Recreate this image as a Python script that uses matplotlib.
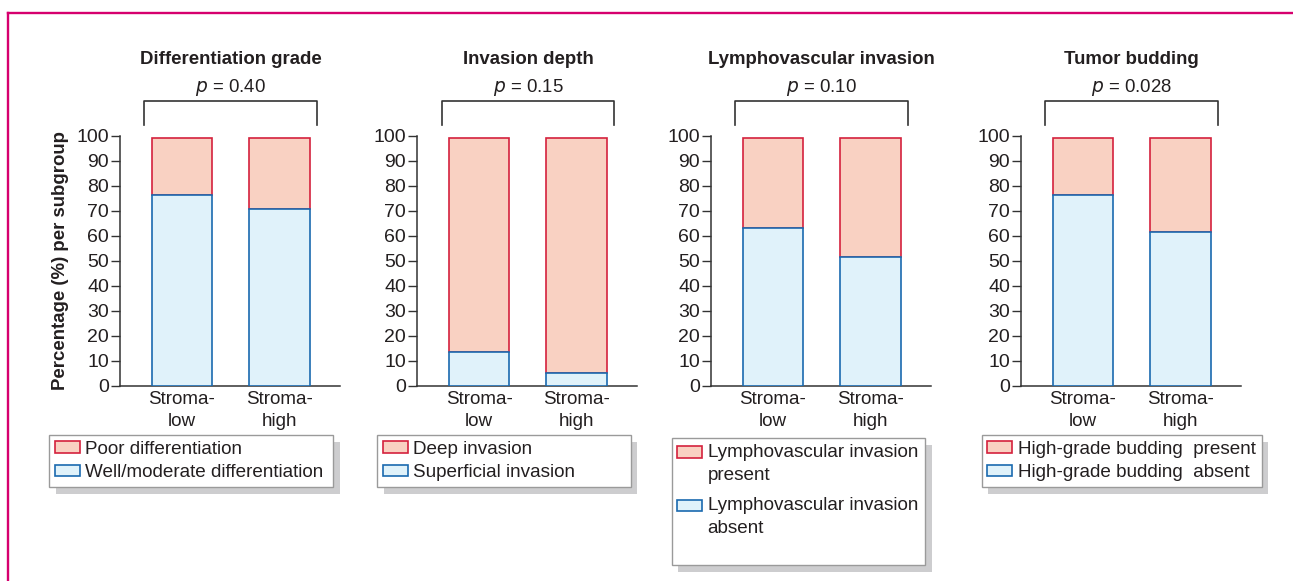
import matplotlib
matplotlib.use("Agg")
import matplotlib.pyplot as plt
from matplotlib.patches import Rectangle
from matplotlib.legend_handler import HandlerPatch
from matplotlib.lines import Line2D

plt.rcParams['font.family'] = ['Liberation Sans', 'DejaVu Sans']

# Datos
categorias = ["Stroma-\nlow", "Stroma-\nhigh"]
titulos = ["Differentiation grade", "Invasion depth",
           "Lymphovascular invasion", "Tumor budding"]
valores_p = ["0.40", "0.15", "0.10", "0.028"]

# parte inferior (azul) y parte superior (roja) de cada barra, en %
diferenciacion_buena = [76.4, 70.8]
diferenciacion_pobre = [22.7, 28.3]
invasion_superficial = [13.4, 5.1]
invasion_profunda = [85.7, 94.0]
linfovascular_ausente = [63.3, 51.7]
linfovascular_presente = [35.8, 47.4]
budding_ausente = [76.2, 61.4]
budding_presente = [22.9, 37.7]

etiquetas_rojo = ["Poor differentiation", "Deep invasion",
                  "Lymphovascular invasion\npresent", "High-grade budding  present"]
etiquetas_azul = ["Well/moderate differentiation", "Superficial invasion",
                  "Lymphovascular invasion\nabsent\n", "High-grade budding  absent"]

inferiores = [diferenciacion_buena, invasion_superficial, linfovascular_ausente, budding_ausente]
superiores = [diferenciacion_pobre, invasion_profunda, linfovascular_presente, budding_presente]

# Colores
rojo_borde, rojo_relleno = '#d4213d', '#f9d1c2'
azul_borde, azul_relleno = '#1a6aaf', '#e0f2fa'
texto = '#231f20'
gris_eje = '#333333'

W, H = 1293, 581
fig = plt.figure(figsize=(W / 100, H / 100), dpi=100)

# posiciones en píxeles (izquierda de cada eje y leyendas)
ejes_izq = [120, 417.3, 711, 1021]
eje_ancho = 220
eje_abajo, eje_arriba = 385.7, 136
leyendas = [(49.3, 435, 284), (377.3, 435, 253.4), (671.7, 438, 253.3), (981.7, 435, 280)]
fs_ley = 13.6
fs_tit = 13.4
fs_tick = 14
interlineado = 1.45


def handler_arriba(desplaz):
    # sube la manija para alinearla con la primera línea de la etiqueta
    def f(legend, orig_handle, xdescent, ydescent, width, height, fontsize):
        return Rectangle((-xdescent, -ydescent + desplaz), width, height)
    return HandlerPatch(patch_func=f)


lista_leyendas = []
for i in range(4):
    ax = fig.add_axes([ejes_izq[i] / W, 1 - eje_abajo / H,
                       eje_ancho / W, (eje_abajo - eje_arriba) / H])
    x = [0, 1]
    ax.bar(x, superiores[i], bottom=inferiores[i], width=0.62,
           color=rojo_relleno, edgecolor=rojo_borde, linewidth=1.2, zorder=2)
    ax.bar(x, inferiores[i], width=0.62,
           color=azul_relleno, edgecolor=azul_borde, linewidth=1.2, zorder=3)

    ax.set_xlim(-0.633, 1.62)
    ax.set_ylim(0, 100)
    ax.set_yticks(range(0, 101, 10))
    ax.set_xticks(x)
    ax.set_xticklabels(categorias, fontsize=fs_ley, color=texto, linespacing=1.42)
    ax.tick_params(axis='x', length=0, pad=3.5)
    ax.tick_params(axis='y', length=6.5, width=1, color=gris_eje, pad=1.5,
                   labelsize=fs_tick, labelcolor=texto)
    for lado in ['top', 'right']:
        ax.spines[lado].set_visible(False)
    for lado in ['left', 'bottom']:
        ax.spines[lado].set_color(gris_eje)
        ax.spines[lado].set_linewidth(1.1)
    ax.patch.set_alpha(0)

    # título, valor p y corchete
    ax.text(0.5, 130.6, titulos[i], ha='center', va='center', fontsize=fs_tit,
            fontweight='bold', color=texto, clip_on=False)
    ax.text(0.5, 119.6, r"$\it{p}$ = " + valores_p[i], ha='center', va='center',
            fontsize=fs_tit, color=texto, clip_on=False)
    ax.plot([-0.385, -0.385, 1.385, 1.385], [104.5, 114.2, 114.2, 104.5],
            color=gris_eje, linewidth=1.2, clip_on=False)

    if i == 0:
        ax.set_ylabel("Percentage (%) per subgroup", fontsize=fs_tit, fontweight='bold',
                      color=texto, labelpad=5)

    manijas = [Rectangle((0, 0), 1, 1, facecolor=rojo_relleno, edgecolor=rojo_borde, linewidth=1.2),
               Rectangle((0, 0), 1, 1, facecolor=azul_relleno, edgecolor=azul_borde, linewidth=1.2)]
    lx, ly, lw = leyendas[i]
    extra = {}
    espaciado = 0.36
    if i == 2:
        paso = 0.5 * fs_ley * 1.22
        extra['handler_map'] = {manijas[0]: handler_arriba(paso),
                                manijas[1]: handler_arriba(2 * paso)}
        espaciado = 0.72
    leg = ax.legend(manijas, [etiquetas_rojo[i], etiquetas_azul[i]],
                    loc='upper left', bbox_to_anchor=(lx / W, 1 - ly / H - 0.05, lw / W, 0.05),
                    bbox_transform=fig.transFigure, mode='expand', borderaxespad=0,
                    fontsize=fs_ley, frameon=True, fancybox=False, edgecolor='#9a9a9a',
                    framealpha=1, handlelength=1.3, handleheight=0.55,
                    handletextpad=0.3, labelspacing=espaciado, borderpad=0.3, **extra)
    for t in leg.get_texts():
        t.set_color(texto)
        t.set_linespacing(interlineado)
    leg.get_frame().set_linewidth(1.0)
    lista_leyendas.append(leg)

# sombras de las leyendas
fig.canvas.draw()
for leg in lista_leyendas:
    bb = leg.get_window_extent()
    fig.add_artist(Rectangle((bb.x0 + 6.5, bb.y0 - 6.5), bb.width, bb.height,
                             transform=None, facecolor='#cdcdcf', edgecolor='none', zorder=-1))

# marco magenta
fig.add_artist(Line2D([8.3 / W, 8.3 / W], [0, 1 - 13.3 / H], color='#d6006e', linewidth=1.7))
fig.add_artist(Line2D([8.3 / W, 1], [1 - 13.3 / H, 1 - 13.3 / H], color='#d6006e', linewidth=1.7))

fig.savefig("out.png", dpi=100)
